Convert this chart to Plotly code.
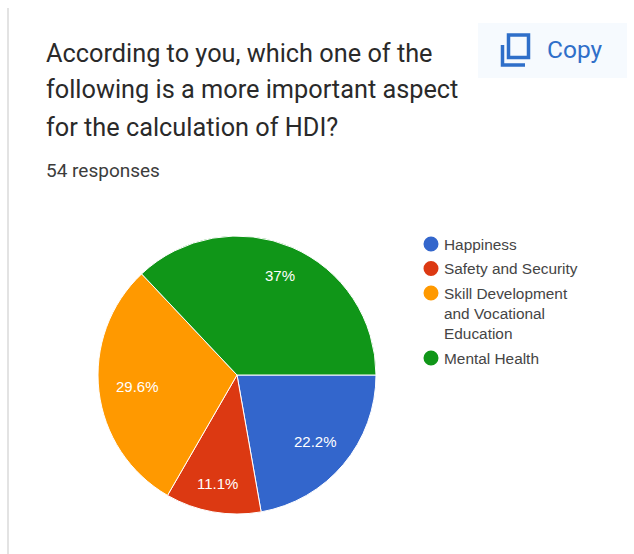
import math
import plotly.graph_objects as go

W, H = 634, 554

# Survey responses per option
categories = ["Happiness", "Safety and Security", "Skill Development and Vocational Education", "Mental Health"]
legend_lines = [["Happiness"], ["Safety and Security"], ["Skill Development", "and Vocational", "Education"], ["Mental Health"]]
counts = [12, 6, 16, 20]
colors = ["#3366CC", "#DC3912", "#FF9900", "#109618"]
title_lines = ["According to you, which one of the", "following is a more important aspect", "for the calculation of HDI?"]
subtitle = "54 responses"
label_radius = [0.74, 0.79, 0.72, 0.78]


def px(x):
    return x / W


def py(y):
    return 1 - y / H


cx, cy, radius = 237, 375, 139

fig = go.Figure(go.Pie(
    labels=categories,
    values=counts,
    sort=False,
    direction="clockwise",
    rotation=90,
    textinfo="none",
    hoverinfo="label+percent",
    marker=dict(colors=colors, line=dict(color="white", width=1)),
    domain=dict(x=[px(cx - radius), px(cx + radius)], y=[py(cy + radius), py(cy - radius)]),
    showlegend=False,
))

annotations = []
shapes = []


def text(x, y, s, size, color, font="Roboto", anchor="left", weight=400):
    annotations.append(dict(
        x=px(x), y=py(y), xref="paper", yref="paper", text=s, showarrow=False,
        xanchor=anchor, yanchor="middle", align=anchor,
        font=dict(family=font, size=size, color=color, weight=weight),
    ))


# Percentage labels placed along each slice's mid-angle
total = sum(counts)
start = 0.0
for c, frac in zip(counts, label_radius):
    sweep = c / total * 2 * math.pi
    mid = start + sweep / 2
    start += sweep
    label = f"{c / total * 100:.1f}".removesuffix(".0") + "%"
    text(cx + frac * radius * math.cos(mid), cy + frac * radius * math.sin(mid),
         label, 15, "white", "Liberation Sans", "center")

# Heading block
for line, y in zip(title_lines, [53, 90, 127]):
    text(44, y, line, 25.3, "#2a2a2a")
text(44, 171, subtitle, 19, "#3c3c3c")

# Legend drawn as circle markers with wrapped text
legend_y = [244, 268.5, 293, 358]
for lines, y0, color in zip(legend_lines, legend_y, colors):
    shapes.append(dict(type="circle", xref="paper", yref="paper",
                       x0=px(423.5), x1=px(438.5), y0=py(y0 + 7.5), y1=py(y0 - 7.5),
                       fillcolor=color, line=dict(width=0)))
    for i, line in enumerate(lines):
        text(441.5, y0 + i * 20.3, line, 15.4, "#454545", "Liberation Sans")

# Card edge on the left
shapes.append(dict(type="line", xref="paper", yref="paper",
                   x0=px(8), x1=px(8), y0=0, y1=py(8),
                   line=dict(color="#e3e3e3", width=2)))

# Copy button with its icon
shapes.append(dict(type="rect", xref="paper", yref="paper",
                   x0=px(478), x1=px(627), y0=py(78), y1=py(23),
                   fillcolor="#f6fafe", line=dict(width=0)))
shapes.append(dict(type="rect", xref="paper", yref="paper",
                   x0=px(508.5), x1=px(528.5), y0=py(57.5), y1=py(35),
                   line=dict(color="#2f6fc9", width=3.5), fillcolor="rgba(0,0,0,0)"))
shapes.append(dict(type="path", xref="paper", yref="paper",
                   path=f"M {px(502.5)} {py(45)} L {px(502.5)} {py(65)} L {px(525)} {py(65)}",
                   line=dict(color="#2f6fc9", width=3.5)))
text(545, 50, "Copy", 24.5, "#2f6fc9", "Roboto")

fig.update_layout(
    width=W, height=H,
    margin=dict(l=0, r=0, t=0, b=0),
    paper_bgcolor="white",
    annotations=annotations,
    shapes=shapes,
)

fig.write_html("out.html")
